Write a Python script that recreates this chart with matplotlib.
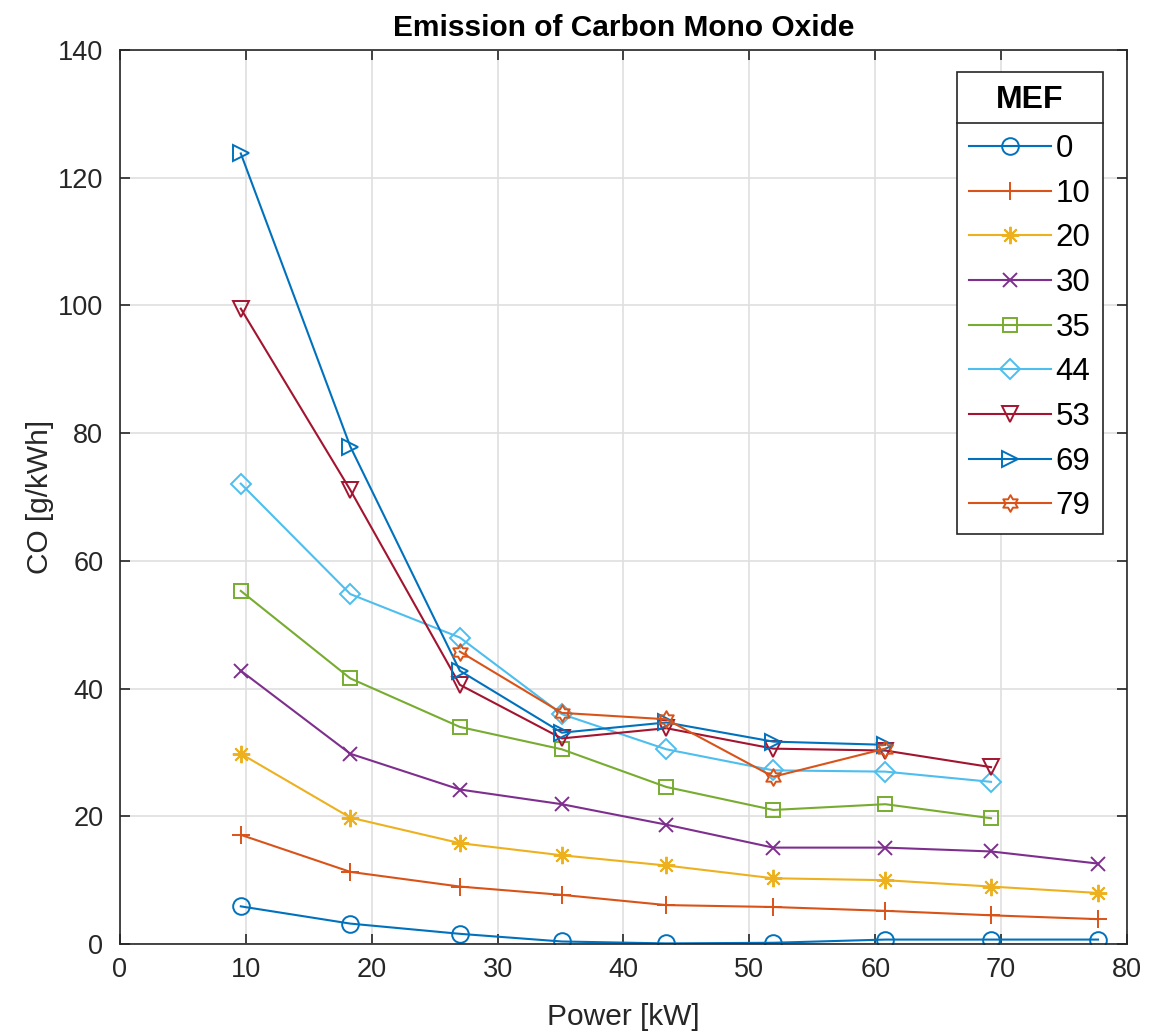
import matplotlib
matplotlib.use('Agg')
import matplotlib.pyplot as plt
from matplotlib.path import Path
from matplotlib.lines import Line2D

# Power values (kW) at which the engine was measured
power = [9.6, 18.3, 27.0, 35.1, 43.4, 51.9, 60.8, 69.2, 77.7]

# CO emission [g/kWh] per MEF level
co_mef0 = [5.9, 3.2, 1.6, 0.4, 0.1, 0.2, 0.7, 0.7, 0.7]
co_mef10 = [17.1, 11.3, 9.0, 7.7, 6.1, 5.8, 5.2, 4.5, 3.9]
co_mef20 = [29.8, 19.8, 15.8, 13.9, 12.3, 10.3, 10.0, 9.0, 8.0]
co_mef30 = [42.8, 29.8, 24.2, 21.9, 18.7, 15.1, 15.1, 14.5, 12.6]
co_mef35 = [55.3, 41.6, 34.0, 30.5, 24.6, 21.0, 21.9, 19.7]
co_mef44 = [72.1, 54.8, 48.0, 36.0, 30.5, 27.2, 27.0, 25.4]
co_mef53 = [99.5, 71.1, 40.6, 32.2, 33.8, 30.6, 30.3, 27.7]
co_mef69 = [123.8, 77.9, 42.8, 33.1, 34.7, 31.7, 31.2]
co_mef79 = [45.8, 36.2, 35.2, 26.2, 30.6]

mef_labels = ['0', '10', '20', '30', '35', '44', '53', '69', '79']

x_ticks = [0, 10, 20, 30, 40, 50, 60, 70, 80]
y_ticks = [0, 20, 40, 60, 80, 100, 120, 140]


def hexagram():
    """ MATLAB style six pointed star """

    return Path.unit_regular_star(6, innerCircle=0.577)


def series_list():
    """ (x, y, colour, marker, size) for every MEF curve """

    return [
        (power, co_mef0, '#0072BD', 'o', 12),
        (power, co_mef10, '#D95319', '+', 13),
        (power, co_mef20, '#EDB120', (8, 2, 0), 12.5),
        (power, co_mef30, '#7E2F8E', 'x', 9.5),
        (power[:8], co_mef35, '#77AC30', 's', 10),
        (power[:8], co_mef44, '#4DBEEE', 'D', 10),
        (power[:8], co_mef53, '#A2142F', 'v', 12),
        (power[:7], co_mef69, '#0072BD', '>', 12),
        (power[2:7], co_mef79, '#D95319', hexagram(), 12),
    ]


def plot_emission():
    """ Drawing the graph """

    plt.rcParams['font.family'] = ['Liberation Sans', 'DejaVu Sans']
    fig = plt.figure(figsize=(11.67, 10.34), dpi=100)
    ax = fig.add_axes([0.1028, 0.0870, 0.8629, 0.8646])

    for (xs, ys, color, marker, ms), label in zip(series_list(), mef_labels):
        ax.plot(xs, ys, color=color, marker=marker, markersize=ms,
                markerfacecolor='none', markeredgecolor=color,
                markeredgewidth=1.4, linewidth=1.5, label=label)

    ax.set_xlim(0, 80)
    ax.set_ylim(0, 140)
    ax.set_xticks(x_ticks)
    ax.set_yticks(y_ticks)
    ax.grid(True, color='#dfdfdf', linewidth=1.2)
    ax.set_axisbelow(True)

    for side in ax.spines.values():
        side.set_color('#262626')
        side.set_linewidth(1.2)
    ax.tick_params(direction='in', length=7, width=1.2, colors='#262626',
                   labelsize=19.5, top=True, right=True, pad=9)
    ax.tick_params(axis='y', pad=12)

    ax.set_xlabel('Power [kW]', fontsize=21.5, color='#262626', labelpad=15)
    ax.set_ylabel('CO [g/kWh]', fontsize=21.5, color='#262626', labelpad=3)
    ax.set_title('Emission of Carbon Mono Oxide', fontsize=21.5,
                 fontweight='bold', pad=10)

    leg = ax.legend(loc='upper right', bbox_to_anchor=(0.976, 0.975),
                    borderaxespad=0, fontsize=22.5, title='MEF',
                    title_fontproperties={'size': 23, 'weight': 'bold'},
                    handlelength=2.6, handletextpad=0.15, labelspacing=0.47,
                    borderpad=0.4, fancybox=False, framealpha=1,
                    edgecolor='#262626')
    leg.get_frame().set_linewidth(1.2)
    leg._legend_box.sep = 13.7  # a bit more room under the title

    # separator line under the legend title, like MATLAB does
    fig.canvas.draw()
    box = leg.get_window_extent()
    title_box = leg.get_title().get_window_extent()
    y_line = title_box.y0 - 8
    inv = fig.transFigure.inverted()
    (x0, yl), (x1, _) = inv.transform([(box.x0, y_line), (box.x1, y_line)])
    fig.add_artist(Line2D([x0, x1], [yl, yl], color='#262626', linewidth=1.2,
                          transform=fig.transFigure, zorder=10))

    fig.savefig('out.png', dpi=100, facecolor='white')


if __name__ == '__main__':
    plot_emission()
